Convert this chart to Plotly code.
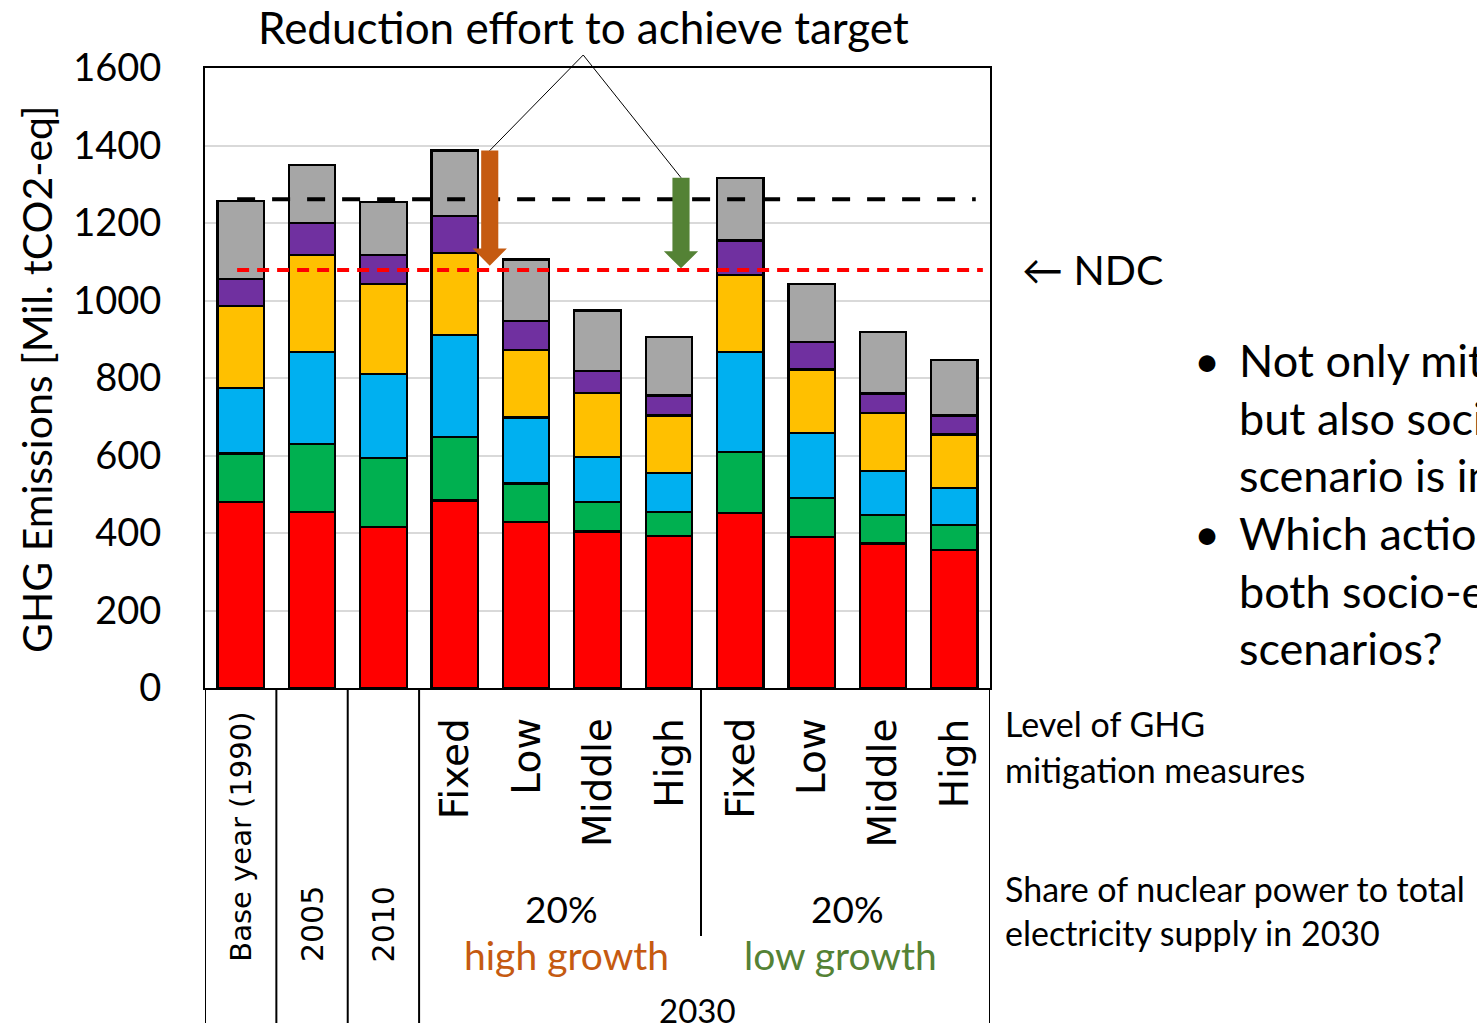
import plotly.graph_objects as go

# ---- data -------------------------------------------------------------
categories = ["Base year (1990)", "2005", "2010",
              "Fixed", "Low", "Middle", "High",
              "Fixed", "Low", "Middle", "High"]

seg_red = [481, 455, 416, 484, 429, 404, 392, 452, 389, 373, 357]
seg_green = [124, 175, 177, 164, 99, 76, 63, 157, 101, 73, 64]
seg_blue = [170, 237, 218, 263, 170, 117, 99, 258, 169, 115, 95]
seg_yellow = [211, 250, 232, 212, 175, 164, 149, 199, 163, 149, 138]
seg_purple = [69, 82, 75, 95, 75, 57, 52, 89, 71, 50, 49]
seg_gray = [201, 151, 136, 169, 158, 156, 150, 162, 149, 158, 144]

y_ticks = [0, 200, 400, 600, 800, 1000, 1200, 1400, 1600]

base_year_level = 1261   # black dashed reference
ndc_level = 1079         # red dashed NDC target

# reduction-effort arrows: (x position, arrow top, arrow tip)
arrow_high = (3.49, 1387, 1090)
arrow_low = (6.17, 1317, 1083)

# ---- figure geometry ---------------------------------------------------
W, H = 1477, 1023
ML, MR, MT, MB = 205, 487, 68, 335
PW, PH = W - ML - MR, H - MT - MB


def xp(px):
    return (px - ML) / PW


def yp(py):
    return (MT + PH - py) / PH


CAL = "Lato"
VER = "DejaVu Sans"

series = [
    ("Segment 1", seg_red, "#FF0000"),
    ("Segment 2", seg_green, "#00B050"),
    ("Segment 3", seg_blue, "#00B0F0"),
    ("Segment 4", seg_yellow, "#FFC000"),
    ("Segment 5", seg_purple, "#7030A0"),
    ("Segment 6", seg_gray, "#A6A6A6"),
]

xs = list(range(len(categories)))
fig = go.Figure()
for name, vals, col in series:
    fig.add_trace(go.Bar(x=xs, y=vals, name=name, marker=dict(color=col, line=dict(color="black", width=2.2)),
                         showlegend=False, hoverinfo="y+name"))

shapes = []
# dashed reference lines
shapes.append(dict(type="line", xref="x", yref="y", x0=-0.05, x1=10.3, y0=base_year_level, y1=base_year_level,
                   line=dict(color="black", width=4, dash="18px,17px"), layer="above"))
shapes.append(dict(type="line", xref="x", yref="y", x0=-0.05, x1=10.4, y0=ndc_level, y1=ndc_level,
                   line=dict(color="#FF0000", width=4, dash="12px,8px"), layer="above"))


# block arrows
def arrow_path(x, top, tip, shaft=0.12, head=0.24, head_len=44):
    base = tip + head_len
    return (f"M {x-shaft},{top} L {x+shaft},{top} L {x+shaft},{base} L {x+head},{base} "
            f"L {x},{tip} L {x-head},{base} L {x-shaft},{base} Z")


for (ax, top, tip), col in [(arrow_high, "#C55A11"), (arrow_low, "#548235")]:
    shapes.append(dict(type="path", xref="x", yref="y", path=arrow_path(ax, top, tip),
                       fillcolor=col, line=dict(width=0), layer="above"))
    # connector from the title to the arrow
    shapes.append(dict(type="line", xref="x", yref="paper", x0=4.8, y0=yp(55), x1=ax, y1=top / 1600,
                       line=dict(color="black", width=1)))

# category separators below the axis
for sx in [-0.5, 0.5, 1.5, 2.5, 10.5]:
    shapes.append(dict(type="line", xref="x", yref="paper", x0=sx, x1=sx, y0=0, y1=yp(H + 5),
                       line=dict(color="black", width=2)))
shapes.append(dict(type="line", xref="x", yref="paper", x0=6.45, x1=6.45, y0=0, y1=yp(936),
                   line=dict(color="black", width=2)))


def note(x, y, text, size, xref="paper", color="black", family=CAL, xanchor="center",
         yanchor="middle", angle=0):
    return dict(x=x, y=y, xref=xref, yref="paper", text=text, textangle=angle, showarrow=False,
                xanchor=xanchor, yanchor=yanchor, font=dict(family=family, size=size, color=color))


annotations = []
# category labels
for i, lab in enumerate(categories):
    if i < 3:
        size = 29 if i == 0 else 30
        annotations.append(note(i, yp(964), lab, size, xref="x", family=VER, yanchor="bottom", angle=-90))
    else:
        annotations.append(note(i, yp(716), lab, 39, xref="x", family=VER, yanchor="top", angle=-90))

# scenario group labels
annotations += [
    note(4.5, yp(908), "20%", 37, xref="x"),
    note(8.5, yp(908), "20%", 37, xref="x"),
    note(4.57, yp(955), "high growth", 39, xref="x", color="#C55A11"),
    note(8.4, yp(955), "low growth", 39, xref="x", color="#548235"),
    note(6.4, yp(1010), "2030", 33, xref="x"),
]

# titles and side texts
annotations += [
    note(xp(583), yp(27), "Reduction effort to achieve target", 44),
    note(xp(37), yp(380), "GHG Emissions [Mil. tCO2-eq]", 41, angle=-90),
    note(xp(1020), yp(269), "\u2190 NDC", 41, xanchor="left"),
    note(xp(1003), yp(723), "Level of GHG", 34, xanchor="left"),
    note(xp(1003), yp(769), "mitigation measures", 34, xanchor="left"),
    note(xp(1003), yp(888), "Share of nuclear power to total", 34, xanchor="left"),
    note(xp(1003), yp(933), "electricity supply in 2030", 34, xanchor="left"),
]

bullet_lines = [
    (360, "Not only mitigation", True),
    (418, "but also socio-economic", False),
    (475, "scenario is important", False),
    (533, "Which actions", True),
    (591, "both socio-economic", False),
    (648, "scenarios?", False),
]
for py, txt, has_bullet in bullet_lines:
    annotations.append(note(xp(1237), yp(py), txt, 45, xanchor="left"))
    if has_bullet:
        annotations.append(note(xp(1207), yp(py), "\u2022", 45))

fig.update_layout(
    width=W, height=H,
    margin=dict(l=ML, r=MR, t=MT, b=MB, pad=0),
    paper_bgcolor="white", plot_bgcolor="white",
    barmode="stack", bargap=0.35,
    shapes=shapes, annotations=annotations,
    xaxis=dict(range=[-0.5, 10.5], showticklabels=False, showgrid=False, zeroline=False,
               showline=True, linecolor="black", linewidth=2, mirror=True, ticks=""),
    yaxis=dict(range=[0, 1600], tickvals=y_ticks, showgrid=True, gridcolor="#D9D9D9", gridwidth=2,
               zeroline=False, showline=True, linecolor="black", linewidth=2, mirror=True, ticks="",
               ticklabelstandoff=34, tickfont=dict(family=CAL, size=38, color="black")),
)

fig.write_html("out.html")
